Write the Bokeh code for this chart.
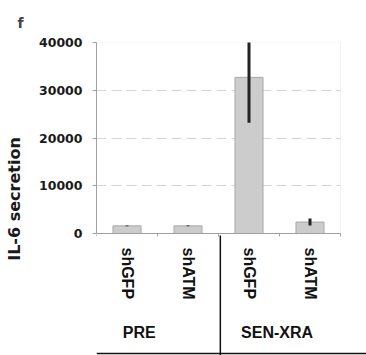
import math
from bokeh.plotting import figure
from bokeh.models import Range1d, FixedTicker, BoxAnnotation, ColumnDataSource
from bokeh.core.properties import value
from bokeh.embed import file_html
from bokeh.resources import INLINE

# ---- data ----
groups = ["PRE", "SEN-XRA"]
conditions = ["shGFP", "shATM", "shGFP", "shATM"]
il6 = [1600, 1600, 32700, 2400]
il6_err = [100, 100, 9500, 750]
y_ticks = [0, 10000, 20000, 30000, 40000]

# ---- layout constants (pixels) ----
W, H = 366, 355
LEFT, TOP = 96, 42
CAT_PX = 61                     # pixels per category
ZERO_PX = 233                   # y pixel of value 0
YMAX = 40000
PX_PER_UNIT = (ZERO_PX - TOP) / YMAX

def ydat(py):
    return (ZERO_PX - py) / PX_PER_UNIT

n = len(conditions)
x_end = (W - LEFT) / CAT_PX
y_start = ydat(H)

p = figure(width=W, height=H, output_backend="svg", toolbar_location=None,
           x_range=Range1d(0, x_end), y_range=Range1d(y_start, YMAX),
           x_axis_location=None, min_border_left=LEFT, min_border_right=0,
           min_border_top=TOP, min_border_bottom=0)
p.outline_line_color = None
p.background_fill_color = "white"
p.border_fill_color = "white"

# title "f"
p.title.text = "f"
p.title.text_font = "DejaVu Sans"
p.title.text_font_style = "bold"
p.title.text_font_size = "14px"
p.title.align = "left"
p.title.offset = -79
p.title.standoff = 24

# y axis
ya = p.yaxis[0]
ya.ticker = FixedTicker(ticks=y_ticks)
ya.bounds = (0, YMAX)
ya.axis_line_color = "#a0a0a0"
ya.major_tick_line_color = "#a0a0a0"
ya.major_tick_out = 4
ya.major_tick_in = 0
ya.minor_tick_line_color = None
ya.major_label_text_font = "DejaVu Sans"
ya.major_label_text_font_style = "bold"
ya.major_label_text_font_size = "12.5px"
ya.major_label_text_color = "#1a1a1a"
ya.major_label_standoff = 10
ya.axis_label = "IL-6 secretion"
ya.axis_label_text_font = "DejaVu Sans"
ya.axis_label_text_font_style = "bold"
ya.axis_label_text_font_size = "16px"
ya.axis_label_text_color = "#1a1a1a"
ya.axis_label_standoff = 12

# grid
p.xgrid.visible = False
p.ygrid.ticker = FixedTicker(ticks=[t for t in y_ticks if 0 < t < YMAX])
p.ygrid.grid_line_color = "#d4d4d4"
p.ygrid.grid_line_dash = "10 5"
p.ygrid.cross_bounds = (0, n)

# plot box (top/right light border)
p.add_layout(BoxAnnotation(left=0, right=n, bottom=0, top=YMAX, fill_alpha=0,
                           line_color="#d4d4d4", line_width=1, level="underlay"))

# bars
xs = [i + 0.5 for i in range(n)]
src = ColumnDataSource(dict(x=xs, top=il6,
                            lo=[v - e for v, e in zip(il6, il6_err)],
                            hi=[v + e for v, e in zip(il6, il6_err)],
                            label=conditions))
p.vbar(x="x", top="top", width=0.46, bottom=0, source=src,
       fill_color="#cccccc", line_color="#a8a8a8", line_width=1)
p.segment(x0="x", x1="x", y0="lo", y1="hi", source=src,
          line_color="#222222", line_width=3)

# x baseline and tick marks at category boundaries
p.segment(x0=[0], x1=[n], y0=[0], y1=[0], line_color="#a0a0a0", line_width=1)
bx = list(range(n + 1))
p.segment(x0=bx, x1=bx, y0=[0] * len(bx), y1=[ydat(ZERO_PX + 3)] * len(bx),
          line_color="#a0a0a0", line_width=1)

# category labels (rotated)
p.text(x="x", y=ydat(247), text="label", source=src, angle=-math.pi / 2,
       text_align="left", text_baseline="middle",
       text_font=value("Liberation Sans"), text_font_style="bold",
       text_font_size="16px", text_color="#111111")

# group labels
group_x = [0.70, 2.96]
p.text(x=group_x, y=[ydat(332)] * len(groups), text=groups,
       text_align="center", text_baseline="middle",
       text_font=value("Liberation Sans"), text_font_style="bold",
       text_font_size="16px", text_color="#111111")

# group divider and bottom rule
p.segment(x0=[n / 2 + 0.03], x1=[n / 2 + 0.03], y0=[ydat(235)], y1=[y_start],
          line_color="#111111", line_width=1.5)
p.segment(x0=[0], x1=[x_end], y0=[ydat(353)], y1=[ydat(353)],
          line_color="#111111", line_width=1.5)

open("out.html", "w").write(file_html(p, INLINE))
